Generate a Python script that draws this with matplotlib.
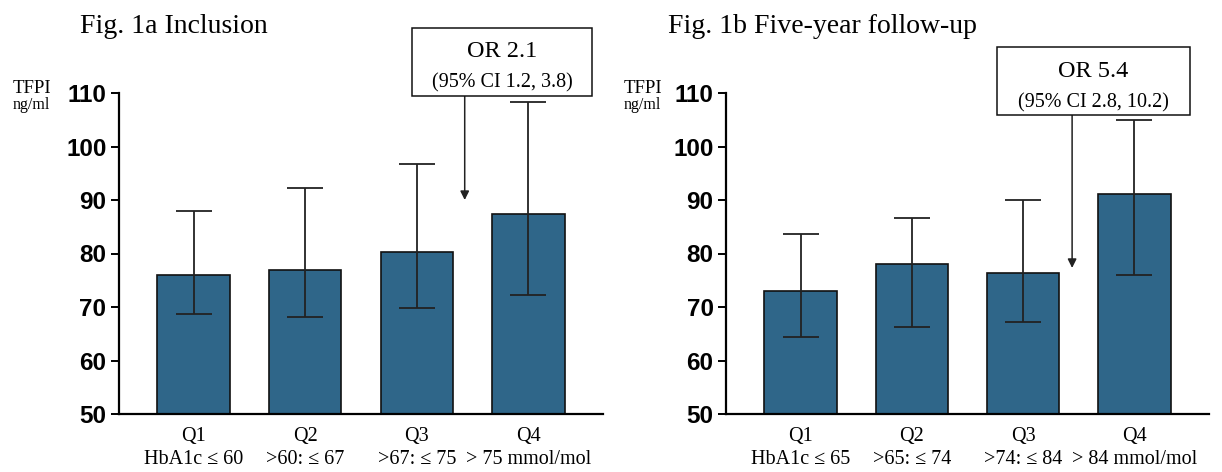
import matplotlib
matplotlib.use("Agg")
import matplotlib.pyplot as plt
import matplotlib.transforms as mtransforms
from matplotlib.patches import Rectangle

# Data
quartiles = ["Q1", "Q2", "Q3", "Q4"]
labels_inclusion = ["HbA1c \u2264 60", ">60: \u2264 67", ">67: \u2264 75", "> 75 mmol/mol"]
labels_followup = ["HbA1c \u2264 65", ">65: \u2264 74", ">74: \u2264 84", "> 84 mmol/mol"]

tfpi_inclusion = [75.9, 77.0, 80.2, 87.3]
upper_inclusion = [88.0, 92.3, 96.8, 108.3]
lower_inclusion = [68.6, 68.2, 69.9, 72.3]

tfpi_followup = [72.9, 78.1, 76.3, 91.2]
upper_followup = [83.7, 86.7, 90.0, 104.9]
lower_followup = [64.4, 66.3, 67.2, 76.0]

or_inclusion = ("OR 2.1", "(95% CI 1.2, 3.8)")
or_followup = ("OR 5.4", "(95% CI 2.8, 10.2)")

BAR_COLOR = "#2F6689"
SERIF = ["Liberation Serif", "DejaVu Serif"]
SANS = ["Liberation Sans", "DejaVu Sans"]

W, H = 1222, 472
fig = plt.figure(figsize=(W / 100, H / 100), dpi=100)


def fx(px):
    return px / W


def fy(py):
    return 1 - py / H


def draw_panel(left_px, right_px, means, upper, lower, sublabels):
    ax = fig.add_axes([fx(left_px), fy(414), fx(right_px - left_px), (414 - 93) / H])
    x = list(range(len(means)))
    ax.bar(x, means, width=0.65, bottom=0, color=BAR_COLOR,
           edgecolor="#111111", linewidth=1.2, zorder=2)
    yerr = [[m - lo for m, lo in zip(means, lower)], [up - m for m, up in zip(means, upper)]]
    ax.errorbar(x, means, yerr=yerr, fmt="none", ecolor="#222222",
                elinewidth=1.3, capsize=13, capthick=1.3, zorder=3)
    ax.set_ylim(50, 110)
    ax.set_xlim(-0.67, 3.67)
    ax.set_yticks(range(50, 111, 10))
    ax.spines["top"].set_visible(False)
    ax.spines["right"].set_visible(False)
    ax.spines["left"].set_linewidth(1.6)
    ax.spines["bottom"].set_linewidth(1.6)
    ax.tick_params(axis="y", length=6, width=1.4, pad=3)
    ax.tick_params(axis="x", length=0, pad=9)
    for lab in ax.get_yticklabels():
        lab.set_fontfamily(SANS)
        lab.set_fontweight("bold")
        lab.set_fontsize(17.5)
    ax.set_xticks(x)
    ax.set_xticklabels([f"{q}\n{s}" for q, s in zip(quartiles, sublabels)],
                       fontfamily=SERIF, fontsize=14.5, linespacing=1.3)
    return ax


def draw_or_box(ax, box_px, texts, line_y_px, arrow_x, arrow_y):
    x0, y0, x1, y1 = box_px
    fig.add_artist(Rectangle((fx(x0), fy(y1)), fx(x1 - x0), (y1 - y0) / H,
                             transform=fig.transFigure, facecolor="white",
                             edgecolor="#111111", linewidth=1.1, zorder=5))
    cx = (x0 + x1) / 2
    fig.text(fx(cx), fy(line_y_px[0]), texts[0], ha="center", va="baseline",
             fontfamily=SERIF, fontsize=17.5, zorder=6)
    fig.text(fx(cx), fy(line_y_px[1]), texts[1], ha="center", va="baseline",
             fontfamily=SERIF, fontsize=14.5, zorder=6)
    trans = mtransforms.blended_transform_factory(ax.transData, fig.transFigure)
    ax.annotate("", xy=(arrow_x, arrow_y), xycoords="data",
                xytext=(arrow_x, fy(y1)), textcoords=trans,
                arrowprops=dict(arrowstyle="-|>", color="#222222", lw=1.1,
                                mutation_scale=13, shrinkA=0, shrinkB=0),
                annotation_clip=False)


ax1 = draw_panel(119, 603, tfpi_inclusion, upper_inclusion, lower_inclusion, labels_inclusion)
ax2 = draw_panel(726, 1209, tfpi_followup, upper_followup, lower_followup, labels_followup)

fig.text(fx(80), fy(33), "Fig. 1a Inclusion", ha="left", va="baseline",
         fontfamily=SERIF, fontsize=20)
fig.text(fx(668), fy(33), "Fig. 1b Five-year follow-up", ha="left", va="baseline",
         fontfamily=SERIF, fontsize=20)

for left in (13, 624):
    fig.text(fx(left), fy(93), "TFPI", ha="left", va="baseline",
             fontfamily=SERIF, fontsize=13.5)
    fig.text(fx(left), fy(109), "ng/ml", ha="left", va="baseline",
             fontfamily=SERIF, fontsize=11.5)

draw_or_box(ax1, (412, 28, 592, 96), or_inclusion, (57, 87), 2.43, 90.0)
draw_or_box(ax2, (997, 47, 1190, 115), or_followup, (77, 107), 2.44, 77.3)

fig.savefig("out.png", dpi=100)
